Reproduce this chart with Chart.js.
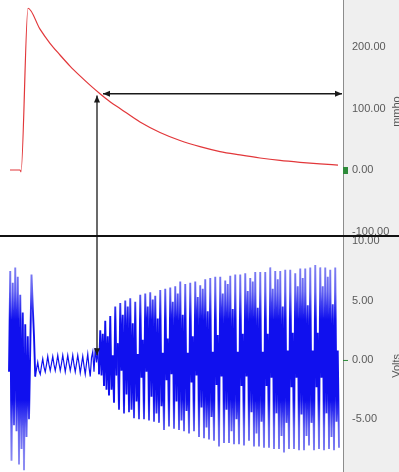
<!DOCTYPE html>
<html>
<head>
<meta charset="utf-8">
<script src="https://cdn.jsdelivr.net/npm/chart.js@4.4.1/dist/chart.umd.min.js"></script>
<style>
  html, body { margin: 0; padding: 0; background: #fff; }
  #wrap { width: 399px; height: 472px; position: relative; overflow: hidden; }
  canvas { display: block; }
  .sep { width: 399px; height: 2px; background: #111; }
</style>
</head>
<body>
<div id="wrap">
  <canvas id="cond-chart" width="399" height="235"></canvas>
  <div class="sep"></div>
  <canvas id="volt-chart" width="399" height="235"></canvas>
</div>
<script>
// time axis in seconds
const timeMin = 0;
const timeMax = 34.3;

// conductance channel (mmho)
const redTime = [1.0, 2.0, 2.1, 2.8, 4.0, 5.0, 6.0, 7.0, 8.0, 9.0, 10.0, 11.0, 12.0, 14.0, 16.0, 18.0, 20.0, 22.0, 24.0, 26.0, 28.0, 30.0, 32.0, 33.8];
const redValue = [0, 0, -3, 263, 229, 206, 187, 169, 153, 138, 124, 111, 100, 78, 61, 48, 38, 30, 24.5, 19.5, 15.5, 12.5, 10, 8];
const condTicks = [200, 100, 0, -100];

// voltage channel (Volts), sampled every blueStep seconds from blueStart
const blueStart = 0.9;
const blueStep = 0.125;
const blueValues = [
  -1.0, 7.5, -8.5, 6.5, -5.5, 7.8, -6.0, 7.0, -8.8, 5.5, -7.5, 4.0, -9.3, 3.0, -6.5, 2.0, -5.0, 1.0, 7.2, 4.5, 2.0,
  -1.4, -0.8, -0.2, -0.9,  -1.2, -0.5, 0.1, -0.6,  -1.0, -0.4, 0.3, -0.4,  -0.9, -0.3, 0.3, -0.4,
  -0.9, -0.3, 0.4, -0.3,  -0.9, -0.3, 0.4, -0.3,  -1.0, -0.3, 0.4, -0.3,  -0.9, -0.3, 0.4, -0.4,
  -1.0, -0.3, 0.4, -0.3,  -1.1, -0.4, 0.3, -0.5,  -1.2, -0.3, 0.5, -0.6,  -1.4, 0.2, 0.7, -1.0,
  1.0, -0.2, 0.8, -1.2,  2.5, -1.3, 2.2, -2.2,  3.3, -2.5, 2.0, -3.0,  3.7, -2.5, 0.4, -3.6,
  4.5, -1.3, 1.4, -4.2,  4.8, -0.9, 3.8, -4.5,  5.0, -2.9, 4.5, -4.4,  5.2, -4.2, 3.1, -4.9,
  4.9, -3.5, 0.5, -5.0,  5.5, -1.5, 1.7, -5.0,  5.6, -1.0, 4.5, -5.1,  5.7, -3.1, 5.1, -5.2,
  5.4, -4.5, 3.5, -5.3,  5.9, -3.9, 0.6, -5.9,  6.0, -1.7, 1.8, -5.6,  6.1, -1.2, 4.9, -5.8,
  6.2, -3.5, 5.6, -5.9,  6.6, -5.1, 3.8, -6.0,  6.4, -4.3, 0.6, -6.2,  6.5, -1.9, 2.0, -6.0,
  6.6, -1.3, 5.3, -6.5,  6.3, -4.0, 6.0, -6.6,  6.8, -5.7, 4.1, -6.7,  6.9, -4.8, 0.7, -6.8,
  7.0, -2.1, 2.1, -7.3,  7.0, -1.4, 5.6, -7.0,  6.7, -4.2, 6.4, -7.0,  7.1, -6.0, 4.3, -7.1,
  7.2, -5.0, 0.7, -7.1,  7.2, -2.2, 2.2, -7.2,  7.3, -1.4, 5.8, -6.8,  6.9, -4.4, 6.6, -7.3,
  7.4, -6.2, 4.4, -7.3,  7.4, -5.2, 0.7, -7.4,  7.4, -2.2, 2.2, -7.4,  7.8, -1.5, 6.0, -7.5,
  7.5, -4.5, 6.8, -7.5,  7.5, -6.4, 4.5, -7.8,  7.6, -5.3, 0.8, -7.5,  7.6, -2.3, 2.3, -7.5,
  7.3, -1.5, 6.2, -7.6,  7.7, -4.6, 6.9, -7.6,  7.7, -6.4, 4.6, -7.2,  7.8, -5.3, 0.8, -7.6,
  8.0, -2.3, 2.3, -7.5,  7.8, -1.5, 6.2, -7.6,  7.8, -4.5, 7.0, -7.5,  7.6, -6.5, 4.7, -7.6,
  7.8, -5.2, 0.8, -7.4
];
const voltTicks = [10, 5, 0, -5];

// measurement markers
const markTime = 9.7;
const markLevel = 124;
const markTopLevel = 121;
const markVolt = 0.4;
const levelStartTime = 10.3;

function drawHead(ctx, x, y, angle) {
    ctx.save();
    ctx.translate(x, y);
    ctx.rotate(angle);
    ctx.beginPath();
    ctx.moveTo(0, 0);
    ctx.lineTo(-7, -3);
    ctx.lineTo(-7, 3);
    ctx.closePath();
    ctx.fill();
    ctx.restore();
}

function panelPlugin(title, titleValue) {
    return {
        id: 'panel',
        beforeDraw: function(chart) {
            const ctx = chart.ctx;
            const area = chart.chartArea;
            ctx.save();
            ctx.fillStyle = '#ffffff';
            ctx.fillRect(0, 0, chart.width, chart.height);
            ctx.fillStyle = '#efefef';
            ctx.fillRect(area.right, 0, chart.width - area.right, chart.height);
            ctx.restore();
        },
        afterDraw: function(chart) {
            const ctx = chart.ctx;
            const y = chart.scales.y;
            ctx.save();
            ctx.font = '11px "Liberation Sans", Arial, sans-serif';
            ctx.fillStyle = '#555';
            ctx.textAlign = 'center';
            ctx.textBaseline = 'middle';
            ctx.translate(chart.width - 2, y.getPixelForValue(titleValue));
            ctx.rotate(-Math.PI / 2);
            ctx.fillText(title, 0, 0);
            ctx.restore();
        }
    };
}

const condPlugin = {
    id: 'condMarks',
    afterDatasetsDraw: function(chart) {
        const ctx = chart.ctx;
        const x = chart.scales.x;
        const y = chart.scales.y;
        const area = chart.chartArea;
        ctx.save();
        ctx.strokeStyle = '#1a1a1a';
        ctx.fillStyle = '#1a1a1a';
        ctx.lineWidth = 1.3;
        // level arrow
        const ly = y.getPixelForValue(markLevel);
        const lx = x.getPixelForValue(levelStartTime);
        ctx.beginPath();
        ctx.moveTo(lx, ly);
        ctx.lineTo(area.right - 1, ly);
        ctx.stroke();
        drawHead(ctx, lx, ly, Math.PI);
        drawHead(ctx, area.right - 1, ly, 0);
        // vertical arrow top part
        const vx = x.getPixelForValue(markTime);
        const vy = y.getPixelForValue(markTopLevel);
        ctx.beginPath();
        ctx.moveTo(vx, vy);
        ctx.lineTo(vx, area.bottom);
        ctx.stroke();
        drawHead(ctx, vx, vy, -Math.PI / 2);
        // zero marker
        ctx.fillStyle = '#2e8b3a';
        ctx.fillRect(area.right, y.getPixelForValue(0) - 3, 5, 7);
        ctx.restore();
    }
};

const voltPlugin = {
    id: 'voltMarks',
    afterDatasetsDraw: function(chart) {
        const ctx = chart.ctx;
        const x = chart.scales.x;
        const y = chart.scales.y;
        const area = chart.chartArea;
        ctx.save();
        ctx.strokeStyle = '#1a1a1a';
        ctx.fillStyle = '#1a1a1a';
        ctx.lineWidth = 1.3;
        const vx = x.getPixelForValue(markTime);
        const vy = y.getPixelForValue(markVolt);
        ctx.beginPath();
        ctx.moveTo(vx, area.top);
        ctx.lineTo(vx, vy);
        ctx.stroke();
        drawHead(ctx, vx, vy, Math.PI / 2);
        // zero marker
        ctx.strokeStyle = '#2e8b3a';
        ctx.lineWidth = 1;
        ctx.beginPath();
        ctx.moveTo(area.right, y.getPixelForValue(0) + 0.5);
        ctx.lineTo(area.right + 5, y.getPixelForValue(0) + 0.5);
        ctx.stroke();
        ctx.restore();
    }
};

function yAxis(min, max, ticks) {
    return {
        type: 'linear',
        position: 'right',
        min: min,
        max: max,
        afterFit: function(scale) {
            scale.width = 56;
            scale.paddingTop = 0;
            scale.paddingBottom = 0;
        },
        afterBuildTicks: function(scale) { scale.ticks = ticks.map(v => ({ value: v })); },
        grid: { drawOnChartArea: false, drawTicks: false },
        border: { display: true, color: '#8c8c8c', width: 1 },
        ticks: {
            padding: 9,
            color: '#5a5a5a',
            font: { family: '"Liberation Sans", Arial, sans-serif', size: 11 },
            callback: function(v) { return Number(v).toFixed(2); }
        }
    };
}

// dense trace: dark in the core, lighter toward the peaks
function voltStroke(context) {
    const chart = context.chart;
    const area = chart.chartArea;
    if (!area) return '#0000ee';
    const y = chart.scales.y;
    const g = chart.ctx.createLinearGradient(0, y.getPixelForValue(8.5), 0, y.getPixelForValue(-8.5));
    g.addColorStop(0.0, '#8a8af2');
    g.addColorStop(0.16, '#6262f2');
    g.addColorStop(0.3, '#1010ee');
    g.addColorStop(0.7, '#1010ee');
    g.addColorStop(0.84, '#6262f2');
    g.addColorStop(1.0, '#8a8af2');
    return g;
}

// the quiet stretch is drawn with a finer pen
function voltWidth(ctx) {
    const a = Math.abs(ctx.p0.parsed.y);
    const b = Math.abs(ctx.p1.parsed.y);
    return (a < 1.6 && b < 1.6) ? 1.2 : 1.9;
}

const xAxis = { type: 'linear', min: timeMin, max: timeMax, display: false };

const baseOptions = {
    responsive: false,
    animation: false,
    events: [],
    layout: { padding: 0 },
    plugins: { legend: { display: false }, tooltip: { enabled: false } },
};

const condChart = new Chart(document.getElementById('cond-chart'), {
    type: 'line',
    data: {
        datasets: [{
            data: redTime.map((t, i) => ({ x: t, y: redValue[i] })),
            borderColor: '#e2373a',
            borderWidth: 1.2,
            pointRadius: 0,
            cubicInterpolationMode: 'monotone',
        }],
    },
    options: Object.assign({}, baseOptions, {
        scales: { x: xAxis, y: yAxis(-105.7, 276.4, condTicks) },
    }),
    plugins: [panelPlugin('mmho', 95), condPlugin],
});

const voltChart = new Chart(document.getElementById('volt-chart'), {
    type: 'line',
    data: {
        datasets: [{
            data: blueValues.map((v, i) => ({ x: blueStart + i * blueStep, y: v })),
            borderColor: voltStroke,
            borderWidth: 1.9,
            segment: { borderWidth: voltWidth },
            pointRadius: 0,
            tension: 0,
        }],
    },
    options: Object.assign({}, baseOptions, {
        scales: { x: xAxis, y: yAxis(-9.44, 10.36, voltTicks) },
    }),
    plugins: [panelPlugin('Volts', -0.5), voltPlugin],
});
</script>
</body>
</html>
